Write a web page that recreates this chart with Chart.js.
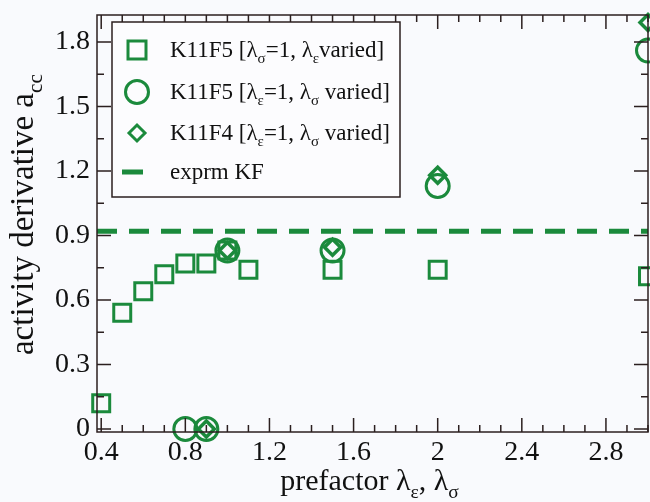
<!DOCTYPE html>
<html>
<head>
<meta charset="utf-8">
<script src="https://cdn.jsdelivr.net/npm/chart.js@4.4.1/dist/chart.umd.min.js"></script>
<style>
  html, body { margin: 0; padding: 0; background: #f9fafd; overflow: hidden; }
  #wrap { width: 650px; height: 502px; position: relative; }
  canvas { display: block; }
</style>
</head>
<body>
<div id="wrap"><canvas id="chartCanvas"></canvas></div>
<script>
// K11F5, lambda_sigma = 1, lambda_eps varied
var epsX = [0.4, 0.5, 0.6, 0.7, 0.8, 0.9, 1.0, 1.1, 1.5, 2.0, 3.0];
var epsY = [0.12, 0.54, 0.64, 0.72, 0.77, 0.77, 0.83, 0.74, 0.74, 0.74, 0.71];
// K11F5, lambda_eps = 1, lambda_sigma varied
var sigX = [0.8, 0.9, 1.0, 1.5, 2.0, 3.0];
var sigY = [0.0, 0.0, 0.83, 0.83, 1.13, 1.76];
// K11F4, lambda_eps = 1, lambda_sigma varied
var f4X = [0.9, 1.0, 1.5, 2.0, 3.0];
var f4Y = [0.0, 0.83, 0.845, 1.18, 1.89];
// experimental value
var exprmKF = 0.92;

var xTicks = [0.4, 0.8, 1.2, 1.6, 2, 2.4, 2.8];
var yTicks = [0, 0.3, 0.6, 0.9, 1.2, 1.5, 1.8];
var xRange = [0.38, 3.0];
var yRange = [-0.014, 1.925];

var green = "#1b8a3c";
var ink = "#2b1f1f";
var serif = "'Liberation Serif', 'Times New Roman', serif";

function pts(xs, ys) {
  return xs.map(function (x, i) { return { x: x, y: ys[i] }; });
}

// text pieces: [string, isSubscript]
var legendRows = [
  { style: "rect", parts: [["K11F5 [\u03bb", 0], ["\u03c3", 1], ["=1, \u03bb", 0], ["\u03b5", 1], ["varied]", 0]] },
  { style: "circle", parts: [["K11F5 [\u03bb", 0], ["\u03b5", 1], ["=1, \u03bb", 0], ["\u03c3", 1], [" varied]", 0]] },
  { style: "rectRot", parts: [["K11F4 [\u03bb", 0], ["\u03b5", 1], ["=1, \u03bb", 0], ["\u03c3", 1], [" varied]", 0]] },
  { style: "line", parts: [["exprm KF", 0]] }
];
var xTitle = [["prefactor \u03bb", 0], ["\u03b5", 1], [", \u03bb", 0], ["\u03c3", 1]];
var yTitle = [["activity derivative a", 0], ["cc", 1]];

function richWidth(ctx, parts, size) {
  var w = 0;
  parts.forEach(function (p) {
    ctx.font = (p[1] ? size * 0.65 : size) + "px " + serif;
    w += ctx.measureText(p[0]).width;
  });
  return w;
}

function drawRich(ctx, parts, x, y, size) {
  parts.forEach(function (p) {
    ctx.font = (p[1] ? size * 0.65 : size) + "px " + serif;
    ctx.fillText(p[0], x, p[1] ? y + size * 0.28 : y);
    x += ctx.measureText(p[0]).width;
  });
}

var decor = {
  id: "decor",
  beforeDraw: function (chart) {
    var ctx = chart.ctx;
    ctx.save();
    ctx.fillStyle = "#f9fafd";
    ctx.fillRect(0, 0, chart.width, chart.height);
    ctx.restore();
  },
  afterDraw: function (chart) {
    var ctx = chart.ctx, a = chart.chartArea;
    var xs = chart.scales.x, ys = chart.scales.y;
    ctx.save();
    ctx.strokeStyle = ink;
    ctx.lineWidth = 1.5;
    ctx.strokeRect(a.left, a.top, a.right - a.left, a.bottom - a.top);

    // inward ticks on all four sides
    ctx.beginPath();
    for (var i = 4; i <= 30; i++) {
      var px = xs.getPixelForValue(i / 10);
      var len = i % 4 === 0 ? 14 : 7;
      ctx.moveTo(px, a.bottom); ctx.lineTo(px, a.bottom - len);
      ctx.moveTo(px, a.top); ctx.lineTo(px, a.top + len);
    }
    for (var j = 0; j <= 12; j++) {
      var py = ys.getPixelForValue(j * 0.15);
      var ln = j % 2 === 0 ? 14 : 7;
      ctx.moveTo(a.left, py); ctx.lineTo(a.left + ln, py);
      ctx.moveTo(a.right, py); ctx.lineTo(a.right - ln, py);
    }
    ctx.stroke();

    // legend
    ctx.fillStyle = "#fcfcfe";
    ctx.fillRect(112, 22, 288, 175);
    ctx.strokeStyle = ink;
    ctx.lineWidth = 1.5;
    ctx.strokeRect(112, 22, 288, 175);
    var rowY = [50, 92, 133, 172];
    legendRows.forEach(function (row, k) {
      var cy = rowY[k];
      ctx.strokeStyle = green;
      ctx.lineWidth = 3;
      ctx.beginPath();
      if (row.style === "rect") {
        ctx.rect(128, cy - 9, 18, 18);
      } else if (row.style === "circle") {
        ctx.arc(137, cy, 11.5, 0, Math.PI * 2);
      } else if (row.style === "rectRot") {
        ctx.moveTo(137 - 8, cy); ctx.lineTo(137, cy - 8);
        ctx.lineTo(137 + 8, cy); ctx.lineTo(137, cy + 8); ctx.closePath();
      } else {
        ctx.lineWidth = 5;
        ctx.moveTo(122, cy); ctx.lineTo(143, cy);
      }
      ctx.stroke();
      ctx.fillStyle = "#111";
      ctx.textBaseline = "alphabetic";
      ctx.textAlign = "left";
      drawRich(ctx, row.parts, 170, cy + 7, 23);
    });

    // axis titles
    ctx.fillStyle = "#111";
    var xw = richWidth(ctx, xTitle, 30);
    drawRich(ctx, xTitle, (a.left + a.right) / 2 - xw / 2 - 3, 490, 30);
    ctx.translate(33, (a.top + a.bottom) / 2 - 9);
    ctx.rotate(-Math.PI / 2);
    var yw = richWidth(ctx, yTitle, 33);
    drawRich(ctx, yTitle, -yw / 2, 0, 33);
    ctx.restore();
  }
};

var ctx = document.getElementById("chartCanvas").getContext("2d");
var chart = new Chart(ctx, {
  type: "scatter",
  data: {
    datasets: [
      {
        label: "exprm KF",
        type: "line",
        data: [{ x: xRange[0], y: exprmKF }, { x: xRange[1], y: exprmKF }],
        borderColor: green,
        borderWidth: 5,
        borderDash: [20, 12],
        pointRadius: 0,
        fill: false,
        clip: false,
      },
      {
        label: "K11F5 eps varied",
        data: pts(epsX, epsY),
        pointStyle: "rect",
        pointRadius: 12,
        pointBorderWidth: 3,
        borderColor: green,
        backgroundColor: "rgba(0,0,0,0)",
        clip: false,
      },
      {
        label: "K11F5 sigma varied",
        data: pts(sigX, sigY),
        pointStyle: "circle",
        pointRadius: 11.5,
        pointBorderWidth: 3,
        borderColor: green,
        backgroundColor: "rgba(0,0,0,0)",
        clip: false,
      },
      {
        label: "K11F4 sigma varied",
        data: pts(f4X, f4Y),
        pointStyle: "rectRot",
        pointRadius: 8,
        pointBorderWidth: 3.5,
        borderColor: green,
        backgroundColor: "rgba(0,0,0,0)",
        clip: false,
      },
    ],
  },
  options: {
    responsive: true,
    maintainAspectRatio: false,
    animation: false,
    events: [],
    layout: { autoPadding: false, padding: { top: 15, right: 2, left: 0, bottom: 0 } },
    plugins: { legend: { display: false }, tooltip: { enabled: false } },
    scales: {
      x: {
        type: "linear",
        min: xRange[0],
        max: xRange[1],
        grid: { display: false, drawTicks: false },
        border: { display: false },
        afterBuildTicks: function (s) { s.ticks = xTicks.map(function (v) { return { value: v }; }); },
        afterFit: function (s) { s.height = 70; s.paddingLeft = 0; s.paddingRight = 0; },
        ticks: {
          autoSkip: false,
          maxRotation: 0,
          padding: 4,
          color: "#111",
          font: { family: serif, size: 28 },
          callback: function (v) { return String(v); },
        },
      },
      y: {
        type: "linear",
        min: yRange[0],
        max: yRange[1],
        grid: { display: false, drawTicks: false },
        border: { display: false },
        afterBuildTicks: function (s) { s.ticks = yTicks.map(function (v) { return { value: v }; }); },
        afterFit: function (s) { s.width = 97; s.paddingTop = 0; s.paddingBottom = 0; },
        ticks: {
          autoSkip: false,
          padding: 7,
          color: "#111",
          font: { family: serif, size: 28 },
          callback: function (v) { return String(v); },
        },
      },
    },
  },
  plugins: [decor],
});
</script>
</body>
</html>
